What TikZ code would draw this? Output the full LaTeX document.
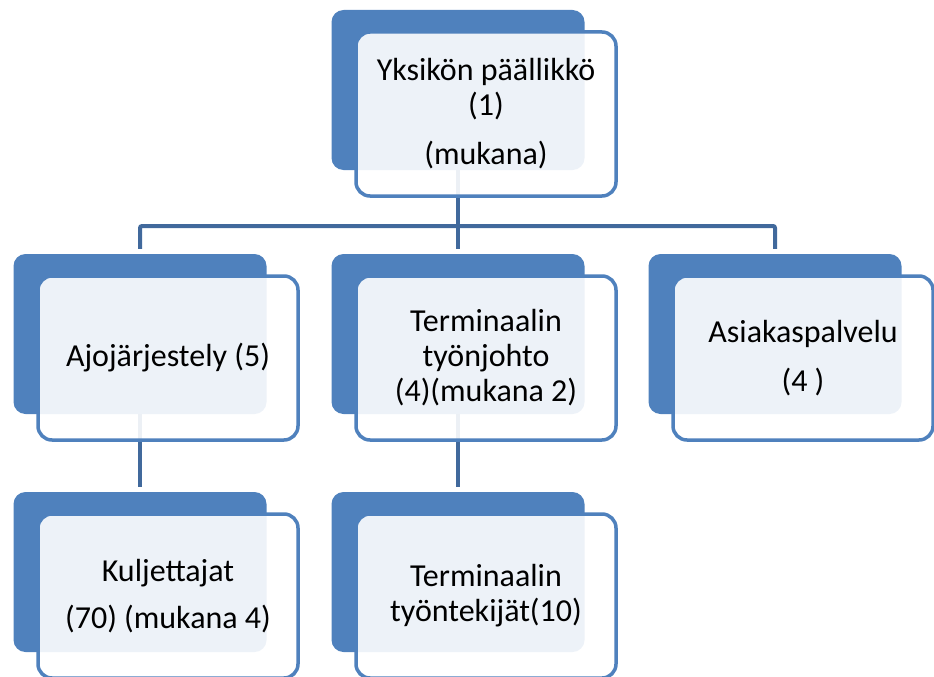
\documentclass[tikz,border=0pt]{standalone}
\usepackage{fontspec}
\setmainfont{Carlito}
\definecolor{accent}{HTML}{4F81BD}
\definecolor{connblue}{HTML}{41699C}
\tikzset{
  darkbox/.style={fill=accent, draw=none, rounded corners=12pt, minimum width=253pt, minimum height=160pt, inner sep=0pt},
  frontbox/.style={draw=accent, line width=3.5pt, fill=white, fill opacity=0.9, text opacity=1, rounded corners=14pt,
    minimum width=260pt, minimum height=164pt, inner sep=0pt, align=center, text=black,
    font=\fontsize{32}{35}\selectfont},
  connector/.style={draw=connblue, line width=4pt}
}
\begin{document}
\begin{tikzpicture}[x=1pt, y=-1pt]
\useasboundingbox (0,0) rectangle (934,677);
% dark back boxes
\node[darkbox] (d0) at (458,90) {};
\node[darkbox] (d1) at (140,334) {};
\node[darkbox] (d2) at (458,334) {};
\node[darkbox] (d3) at (775,334) {};
\node[darkbox] (d4) at (140,572) {};
\node[darkbox] (d5) at (458,572) {};
% connectors
\coordinate (bus) at (458,226);
\draw[connector] (d0.south) -- (d0.south |- bus);
\draw[connector, rounded corners=2pt] ([yshift=5pt]d1.north) -- (d1.north |- bus) -- (d3.north |- bus) -- ([yshift=5pt]d3.north);
\draw[connector] (d2.north |- bus) -- ([yshift=5pt]d2.north);
\draw[connector] (d1.south) -- ([yshift=5pt]d4.north);
\draw[connector] (d2.south) -- ([yshift=5pt]d5.north);
% front boxes
\node[frontbox] (f0) at (486,114) {Yksikön päällikkö\\(1)\\[14pt](mukana)};
\node[frontbox] (f1) at (168,358) {Ajojärjestely (5)};
\node[frontbox] (f2) at (486,358) {Terminaalin\\työnjohto\\(4)(mukana 2)};
\node[frontbox] (f3) at (803,358) {Asiakaspalvelu\\[14pt](4 )};
\node[frontbox] (f4) at (168,596) {Kuljettajat\\[12pt](70) (mukana 4)};
\node[frontbox] (f5) at (486,596) {Terminaalin\\työntekijät(10)};
\end{tikzpicture}
\end{document}
